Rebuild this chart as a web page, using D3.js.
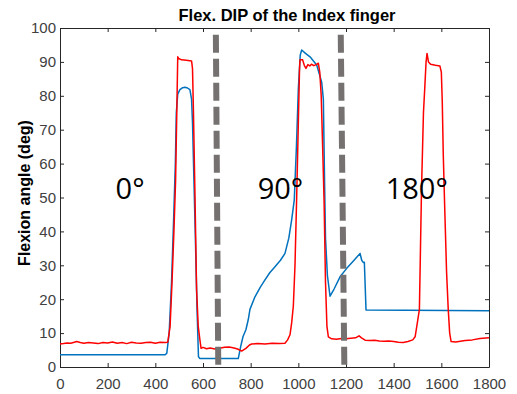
<!DOCTYPE html>
<html>
<head>
<meta charset="utf-8">
<script src="https://cdn.jsdelivr.net/npm/d3@7"></script>
<style>
  html, body { margin: 0; padding: 0; background: #fff; }
  svg { display: block; }
</style>
</head>
<body>
<svg id="chart" width="517" height="394"></svg>
<script>
// Flexion of the DIP joint of the index finger over time (samples)
const redT = [0, 15, 30, 45, 60, 70, 85, 100, 120, 140, 160, 180, 200, 220, 240, 260, 280, 300, 320, 340, 360, 380, 400, 420, 440, 452,
  462, 470, 478, 485, 490, 494, 498, 510, 530, 552, 556, 560, 566, 573, 580, 587, 592,
  600, 615, 630, 650, 670, 690, 710, 730, 745, 762, 780, 795, 804, 830, 860, 890, 920, 944,
  955, 965, 972, 979, 986, 993, 1000, 1005, 1007, 1018, 1025, 1032, 1040, 1048, 1055, 1065, 1075, 1084,
  1090, 1096, 1102, 1108, 1114, 1120, 1126, 1140, 1160, 1180, 1200, 1220, 1240, 1255, 1265, 1280,
  1300, 1320, 1340, 1360, 1380, 1400, 1420, 1440, 1460, 1480, 1490, 1497, 1508, 1517, 1525, 1531,
  1536, 1540, 1546, 1555, 1575, 1594, 1600, 1604, 1608, 1615, 1622, 1629, 1635, 1641, 1660, 1680,
  1700, 1730, 1762, 1800];
const redV = [6.8, 6.9, 7.1, 7.0, 7.3, 7.5, 7.2, 7.0, 7.2, 7.1, 6.9, 7.2, 7.1, 7.4, 7.0, 7.2, 6.9, 7.3, 7.1, 7.0, 7.2, 7.3, 7.0, 7.3, 7.2, 7.3,
  12, 25, 40, 55, 75, 91.5, 91.0, 90.6, 90.5, 90.3, 88, 75, 52, 23, 12, 8, 5.5,
  5.8, 5.4, 5.6, 5.3, 5.5, 5.8, 5.9, 5.6, 5.3, 4.7, 5.5, 6.5, 6.8, 6.9, 6.8, 7.0, 6.9, 7.0,
  8, 9.5, 13, 18, 30, 50, 72, 88, 90.6, 90.6, 89, 88.1, 89.2, 88.8, 89.3, 88.9, 89.2, 89.6,
  87, 80, 65, 49, 25, 12, 8.9, 8.3, 8.2, 8.4, 8.3, 8.5, 8.6, 9.2, 8.6, 7.9,
  7.8, 7.9, 7.7, 7.6, 7.7, 7.5, 7.3, 7.2, 7.5, 8.0, 8.9, 12, 17, 53, 75, 83,
  90, 92.5, 90, 89.3, 89.0, 88.8, 87, 78, 63, 45, 28, 17, 10, 7.5, 7.4, 7.6,
  7.8, 8.0, 8.4, 8.6];

const blueT = [0, 440, 448, 458, 468, 476, 484, 488, 494, 503, 515, 524, 535, 545, 552, 556, 562, 568, 575, 581, 587,
  748, 758, 768, 780, 790, 797, 818, 840, 860, 880, 902, 925, 944, 960, 972, 983, 992, 1000, 1008, 1014,
  1030, 1049, 1077, 1090, 1098, 1105, 1110, 1114, 1122, 1133, 1150, 1175, 1203, 1230, 1259, 1266, 1273, 1277,
  1284, 1800];
const blueV = [3.6, 3.6, 4.0, 10, 25, 42, 60, 75, 80.5, 81.8, 82.4, 82.5, 82.3, 81.8, 79, 72, 55, 38, 17, 3, 2.5,
  2.5, 6, 9, 11, 14, 17, 20.7, 23.5, 25.7, 27.8, 29.6, 31.5, 33.5, 38, 43.4, 49.3, 65, 82, 92, 93.5,
  92.5, 91.5, 89.1, 86, 84, 79, 55, 38, 27, 20.9, 23, 26.6, 29.1, 31.2, 33.5, 31.5, 30.8, 30.9,
  16.8, 16.6];

// Dashed dividers between the wrist orientations (top/bottom x in samples)
const dividerTopT = [654, 1178];
const dividerBottomT = [664, 1193];
const dividerSpan = [98, 0.5];

const regionLabels = ["0°", "90°", "180°"];
const regionLabelT = [294, 925, 1497];
const regionLabelV = 49.7;

const xTicks = [0, 200, 400, 600, 800, 1000, 1200, 1400, 1600, 1800];
const yTicks = [0, 10, 20, 30, 40, 50, 60, 70, 80, 90, 100];

const title = "Flex. DIP of the Index finger";
const yLabel = "Flexion angle (deg)";

const margin = { left: 60, right: 28, top: 28, bottom: 27 };
const W = 517, H = 394;
const svg = d3.select("#chart");

const x = d3.scaleLinear().domain([0, 1800]).range([margin.left, W - margin.right]);
const y = d3.scaleLinear().domain([0, 100]).range([H - margin.bottom, margin.top]);

const axisColor = "#262626";
const tickFont = "Liberation Sans, Arial, sans-serif";

function styleAxis(g) {
  g.selectAll("path.domain").attr("stroke", axisColor).attr("stroke-width", 1);
  g.selectAll(".tick line").attr("stroke", axisColor);
  g.selectAll(".tick text").attr("fill", "#404040").attr("font-family", tickFont).attr("font-size", 15);
}

// Axes with inward ticks on all four sides
svg.append("g").attr("transform", `translate(0,${y(0)})`)
  .call(d3.axisBottom(x).tickValues(xTicks).tickFormat(d3.format("d"))
    .tickSizeInner(-4).tickSizeOuter(0).tickPadding(11))
  .call(styleAxis);
svg.append("g").attr("transform", `translate(0,${y(100)})`)
  .call(d3.axisTop(x).tickValues(xTicks).tickSizeInner(-4).tickSizeOuter(0).tickFormat(""))
  .call(styleAxis);
svg.append("g").attr("transform", `translate(${x(0)},0)`)
  .call(d3.axisLeft(y).tickValues(yTicks).tickFormat(d3.format("d"))
    .tickSizeInner(-4).tickSizeOuter(0).tickPadding(4))
  .call(styleAxis);
svg.append("g").attr("transform", `translate(${x(1800)},0)`)
  .call(d3.axisRight(y).tickValues(yTicks).tickSizeInner(-4).tickSizeOuter(0).tickFormat(""))
  .call(styleAxis);

// Series
const line = d3.line().x(d => x(d[0])).y(d => y(d[1]));
const blueData = d3.zip(blueT, blueV);
const redData = d3.zip(redT, redV);

svg.append("path").datum(blueData)
  .attr("d", line).attr("fill", "none")
  .attr("stroke", "#0072BD").attr("stroke-width", 1.5).attr("stroke-linejoin", "round");
svg.append("path").datum(redData)
  .attr("d", line).attr("fill", "none")
  .attr("stroke", "#FF0000").attr("stroke-width", 1.5).attr("stroke-linejoin", "round");

// Dividers
dividerTopT.forEach((t, i) => {
  svg.append("line")
    .attr("x1", x(t)).attr("y1", y(dividerSpan[0]))
    .attr("x2", x(dividerBottomT[i])).attr("y2", y(dividerSpan[1]))
    .attr("stroke", "#767171").attr("stroke-width", 6)
    .attr("stroke-dasharray", "18 6");
});

// Region labels
regionLabels.forEach((s, i) => {
  svg.append("text")
    .attr("x", x(regionLabelT[i])).attr("y", y(regionLabelV))
    .attr("text-anchor", "middle")
    .attr("font-family", "Open Sans, sans-serif").attr("font-size", 29)
    .attr("fill", "#000").text(s);
});

// Title and y label
svg.append("text")
  .attr("x", 287).attr("y", 21)
  .attr("text-anchor", "middle")
  .attr("font-family", tickFont).attr("font-weight", "bold").attr("font-size", 16.5)
  .attr("fill", "#000").text(title);
svg.append("text")
  .attr("transform", `translate(30,193) rotate(-90)`)
  .attr("text-anchor", "middle")
  .attr("font-family", tickFont).attr("font-weight", "bold").attr("font-size", 16)
  .attr("fill", "#000").text(yLabel);
</script>
</body>
</html>
